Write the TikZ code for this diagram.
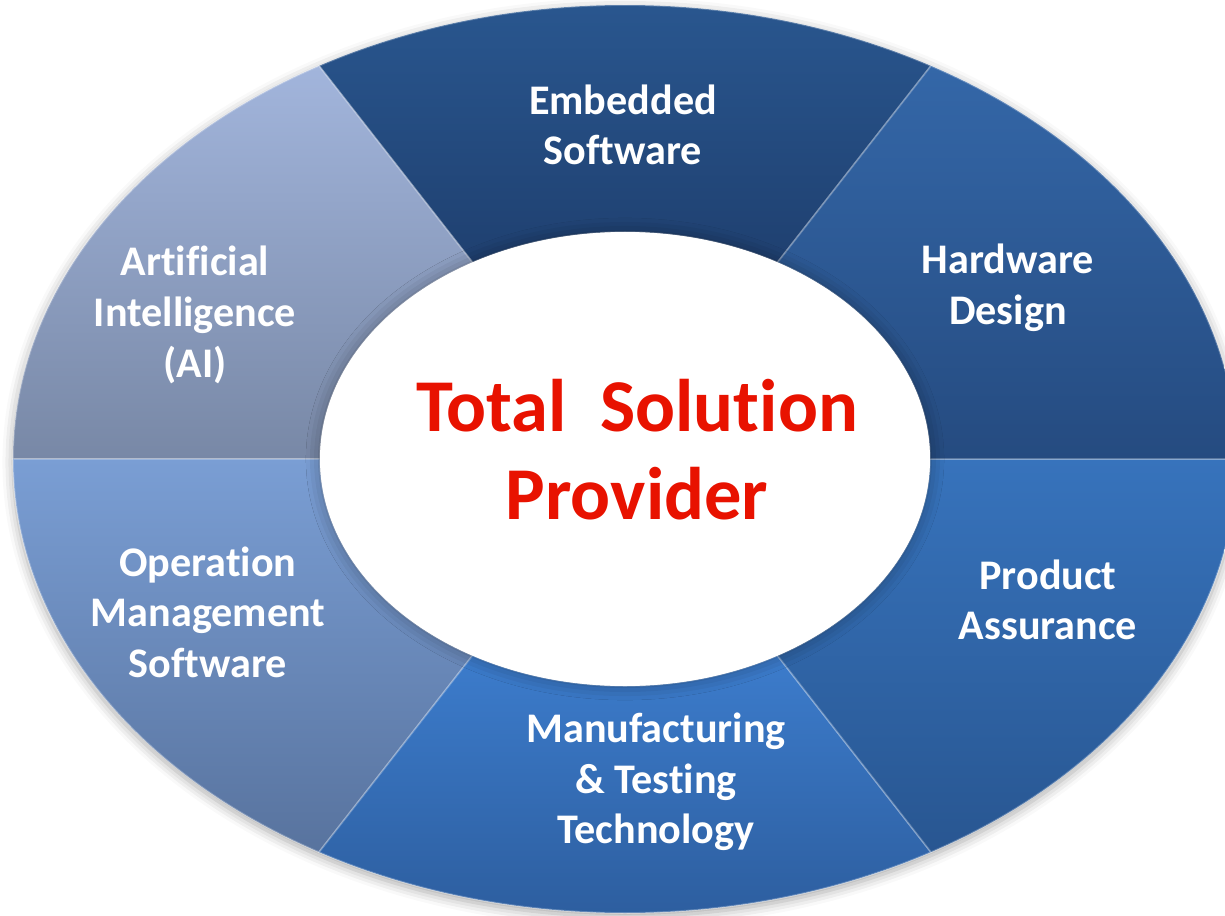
\documentclass[tikz,border=0pt]{standalone}
\usepackage{fontspec}
\setmainfont{Carlito}[Ligatures=NoCommon]
\usetikzlibrary{shadows.blur}

\definecolor{aitop}{RGB}{162,181,220}
\definecolor{aibot}{RGB}{120,136,166}
\definecolor{embtop}{RGB}{42,88,145}
\definecolor{embbot}{RGB}{31,64,112}
\definecolor{hwtop}{RGB}{52,103,168}
\definecolor{hwbot}{RGB}{37,75,128}
\definecolor{patop}{RGB}{55,115,188}
\definecolor{pabot}{RGB}{40,86,145}
\definecolor{mftop}{RGB}{60,124,204}
\definecolor{mfbot}{RGB}{44,92,156}
\definecolor{omtop}{RGB}{122,158,212}
\definecolor{ombot}{RGB}{88,115,158}
\definecolor{tspred}{RGB}{232,18,0}

\begin{document}
\begin{tikzpicture}[x=1cm,y=1cm,
  ring part/.style={draw=white,draw opacity=0.25,line width=0.5pt},
  area label/.style={text=white,align=center,
  font=\bfseries\fontsize{12}{14.4}\selectfont},
  centre label/.style={text=tspred,align=center,
  font=\bfseries\fontsize{21.2}{25}\selectfont}]

  \useasboundingbox (-6.25,-4.56) rectangle (6.00,4.59);
  \clip (-6.25,-4.56) rectangle (6.00,4.59);

  %soft shadow round the whole ring%
  \fill[white,blur shadow={shadow xshift=0pt,shadow yshift=-1pt,
    shadow blur radius=3pt,shadow opacity=35}]
    (0,0) ellipse [x radius=6.12,y radius=4.54];

  %Embedded Software, top part%
  \shade[ring part,top color=embtop,bottom color=embbot]
    (60:6.12 and 4.54) arc[start angle=60,end angle=120,x radius=6.12,y radius=4.54]
    -- (120:3.05 and 2.27) arc[start angle=120,end angle=60,x radius=3.05,y radius=2.27]
    -- cycle;
  %Artificial Intelligence, upper left part%
  \shade[ring part,top color=aitop,bottom color=aibot]
    (120:6.12 and 4.54) arc[start angle=120,end angle=180,x radius=6.12,y radius=4.54]
    -- (180:3.05 and 2.27) arc[start angle=180,end angle=120,x radius=3.05,y radius=2.27]
    -- cycle;
  %Operation Management Software, lower left part%
  \shade[ring part,top color=omtop,bottom color=ombot]
    (180:6.12 and 4.54) arc[start angle=180,end angle=240,x radius=6.12,y radius=4.54]
    -- (240:3.05 and 2.27) arc[start angle=240,end angle=180,x radius=3.05,y radius=2.27]
    -- cycle;
  %Manufacturing & Testing Technology, bottom part%
  \shade[ring part,top color=mftop,bottom color=mfbot]
    (240:6.12 and 4.54) arc[start angle=240,end angle=300,x radius=6.12,y radius=4.54]
    -- (300:3.05 and 2.27) arc[start angle=300,end angle=240,x radius=3.05,y radius=2.27]
    -- cycle;
  %Product Assurance, lower right part%
  \shade[ring part,top color=patop,bottom color=pabot]
    (300:6.12 and 4.54) arc[start angle=300,end angle=360,x radius=6.12,y radius=4.54]
    -- (0:3.05 and 2.27) arc[start angle=360,end angle=300,x radius=3.05,y radius=2.27]
    -- cycle;
  %Hardware Design, upper right part%
  \shade[ring part,top color=hwtop,bottom color=hwbot]
    (0:6.12 and 4.54) arc[start angle=0,end angle=60,x radius=6.12,y radius=4.54]
    -- (60:3.05 and 2.27) arc[start angle=60,end angle=0,x radius=3.05,y radius=2.27]
    -- cycle;

  %White middle with its shadow on the ring%
  \fill[white,blur shadow={shadow xshift=0pt,shadow yshift=0pt,
    shadow blur radius=4pt,shadow opacity=35}]
    (0,0) ellipse [x radius=3.05,y radius=2.27];

  \node[centre label] (TSP) at (0.12,0.09) {Total\hspace{0.45em}Solution\\Provider};

  \node[area label] (Emb) at (-0.02,3.34) {Embedded\\Software};
  \node[area label] (HW) at (3.83,1.71) {Hardware\\Design};
  \node[area label] (PA) at (4.23,-1.41) {Product\\Assurance};
  \node[area label] (MT) at (0.31,-3.23) {Manufacturing\\\&~Testing\\Technology};
  \node[area label] (OM) at (-4.17,-1.53) {Operation\\Management\\Software};
  \node[area label] (AI) at (-4.30,1.44) {Artificial\\Intelligence\\(AI)};

\end{tikzpicture}
\end{document}
